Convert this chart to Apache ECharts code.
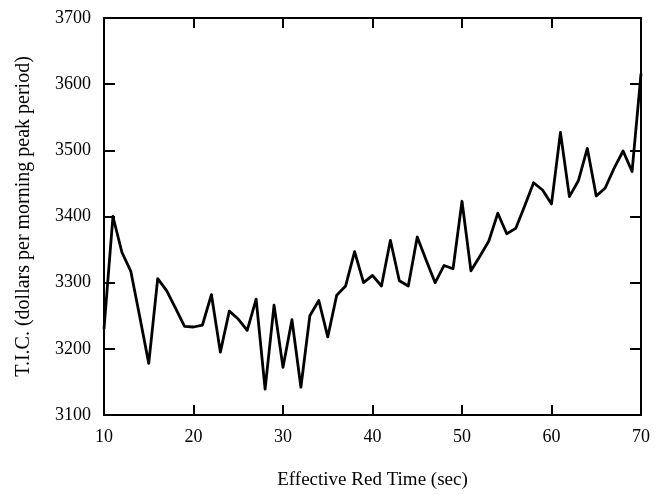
<!DOCTYPE html>
<html><head><meta charset="utf-8">
<script src="https://cdn.jsdelivr.net/npm/echarts@6/dist/echarts.min.js"></script>
<style>html,body{margin:0;padding:0;background:#fff}#c{width:665px;height:495px}</style>
</head><body><div id="c"></div>
<script>
// Effective red time (sec)
const redTime = [10,11,12,13,14,15,16,17,18,19,20,21,22,23,24,25,26,27,28,29,30,31,32,33,34,35,36,37,38,39,40,41,42,43,44,45,46,47,48,49,50,51,52,53,54,55,56,57,58,59,60,61,62,63,64,65,66,67,68,69,70];
// T.I.C. (dollars per morning peak period)
const tic = [3230,3400,3346,3317,3248,3178,3306,3288,3261,3234,3233,3236,3282,3195,3257,3245,3228,3275,3139,3266,3172,3244,3142,3250,3273,3218,3281,3295,3347,3300,3311,3295,3364,3303,3295,3369,3334,3300,3326,3321,3423,3318,3340,3363,3405,3374,3382,3416,3451,3440,3419,3527,3430,3454,3503,3431,3443,3473,3499,3468,3616];
const xTickValues = [10,20,30,40,50,60,70];
const yTickValues = [3100,3200,3300,3400,3500,3600,3700];

const font = 'Liberation Serif';
const lineStyle = {color:'#000', width:2};
const pairs = redTime.map((x,i)=>[x, tic[i]]);

const chart = echarts.init(document.getElementById('c'), null, {renderer:'canvas'});
const baseX = {
  type:'value', min:xTickValues[0], max:xTickValues[xTickValues.length-1], interval:10,
  axisLine:{show:true, onZero:false, lineStyle},
  axisTick:{show:true, inside:true, length:10, lineStyle},
  splitLine:{show:false}
};
const baseY = {
  type:'value', min:yTickValues[0], max:yTickValues[yTickValues.length-1], interval:100,
  axisLine:{show:true, onZero:false, lineStyle},
  axisTick:{show:true, inside:true, length:11, lineStyle},
  splitLine:{show:false}
};
chart.setOption({
  animation:false,
  backgroundColor:'#fff',
  grid:{left:104, right:24, top:18, bottom:74},
  xAxis:[
    Object.assign({}, baseX, {position:'bottom',
      name:'Effective Red Time (sec)', nameLocation:'middle', nameGap:56,
      nameTextStyle:{fontFamily:font, fontSize:19, color:'#000'},
      axisLabel:{fontFamily:font, fontSize:18, color:'#000', margin:13, formatter:v=>String(v)}}),
    Object.assign({}, baseX, {position:'top', axisLabel:{show:false}})
  ],
  yAxis:[
    Object.assign({}, baseY, {position:'left',
      name:'T.I.C. (dollars per morning peak period)', nameLocation:'middle', nameGap:70, nameRotate:90,
      nameTextStyle:{fontFamily:font, fontSize:20, color:'#000'},
      axisLabel:{fontFamily:font, fontSize:18, color:'#000', margin:13, formatter:v=>String(v)}}),
    Object.assign({}, baseY, {position:'right', axisLabel:{show:false}})
  ],
  series:[{
    type:'line', data:pairs, xAxisIndex:0, yAxisIndex:0,
    showSymbol:false, symbol:'none',
    lineStyle:{color:'#000', width:2.8, join:'round'}
  }]
});
</script>
</body></html>
